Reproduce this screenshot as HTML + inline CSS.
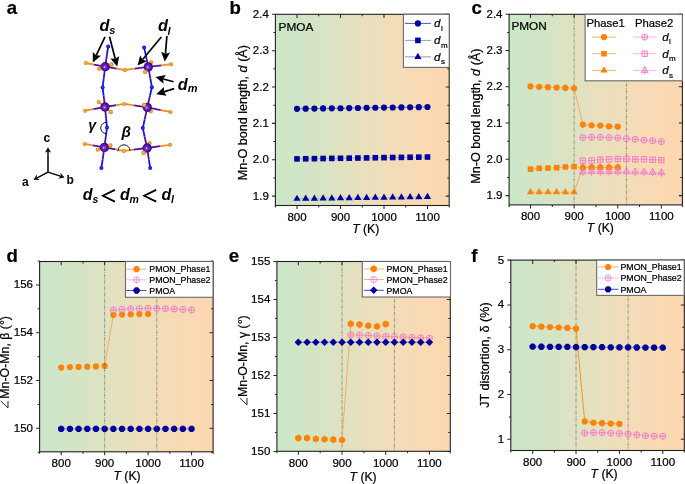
<!DOCTYPE html>
<html><head><meta charset="utf-8"><style>html,body{margin:0;padding:0;background:#fff;overflow:hidden}svg{display:block;will-change:transform}</style></head>
<body><svg width="685" height="484" viewBox="0 0 685 484">
<defs><linearGradient id="bg" x1="0" x2="1" y1="0" y2="0"><stop offset="0.0" stop-color="rgb(203, 231, 201)"/><stop offset="0.25" stop-color="rgb(214, 228, 196)"/><stop offset="0.5" stop-color="rgb(232, 224, 190)"/><stop offset="0.75" stop-color="rgb(246, 219, 182)"/><stop offset="1.0" stop-color="rgb(253, 215, 175)"/></linearGradient>
<radialGradient id="gMn" cx="0.5" cy="0.5" r="0.55" fx="0.42" fy="0.55">
 <stop offset="0" stop-color="#f0c8ff"/><stop offset="0.2" stop-color="#8a44e0"/><stop offset="0.55" stop-color="#5216a8"/><stop offset="1" stop-color="#32087a"/></radialGradient>
<radialGradient id="gO" cx="0.5" cy="0.5" r="0.55" fx="0.5" fy="0.45">
 <stop offset="0" stop-color="#ffe27a"/><stop offset="0.35" stop-color="#f6a432"/><stop offset="0.8" stop-color="#e48412"/><stop offset="1" stop-color="#c46400"/></radialGradient>
<radialGradient id="gN" cx="0.5" cy="0.5" r="0.55" fx="0.5" fy="0.5">
 <stop offset="0" stop-color="#5050ff"/><stop offset="0.5" stop-color="#1a1ae8"/><stop offset="1" stop-color="#0606b8"/></radialGradient>
</defs>
<rect width="685" height="484" fill="#fff"/>
<rect x="275.4" y="14.3" width="173.80" height="191.20" fill="url(#bg)"/>
<path d="M297.00,108.84 L305.70,108.71 L314.40,108.59 L323.10,108.47 L331.80,108.35 L340.50,108.23 L349.20,108.11 L357.90,107.99 L366.60,107.87 L375.30,107.75 L384.00,107.62 L392.70,107.50 L401.40,107.38 L410.10,107.26 L418.80,107.14 L427.50,107.02" fill="none" stroke="#5555cc" stroke-width="0.8"/>
<circle cx="297.00" cy="108.84" r="3.1" fill="#00009a"/>
<circle cx="305.70" cy="108.71" r="3.1" fill="#00009a"/>
<circle cx="314.40" cy="108.59" r="3.1" fill="#00009a"/>
<circle cx="323.10" cy="108.47" r="3.1" fill="#00009a"/>
<circle cx="331.80" cy="108.35" r="3.1" fill="#00009a"/>
<circle cx="340.50" cy="108.23" r="3.1" fill="#00009a"/>
<circle cx="349.20" cy="108.11" r="3.1" fill="#00009a"/>
<circle cx="357.90" cy="107.99" r="3.1" fill="#00009a"/>
<circle cx="366.60" cy="107.87" r="3.1" fill="#00009a"/>
<circle cx="375.30" cy="107.75" r="3.1" fill="#00009a"/>
<circle cx="384.00" cy="107.62" r="3.1" fill="#00009a"/>
<circle cx="392.70" cy="107.50" r="3.1" fill="#00009a"/>
<circle cx="401.40" cy="107.38" r="3.1" fill="#00009a"/>
<circle cx="410.10" cy="107.26" r="3.1" fill="#00009a"/>
<circle cx="418.80" cy="107.14" r="3.1" fill="#00009a"/>
<circle cx="427.50" cy="107.02" r="3.1" fill="#00009a"/>
<path d="M297.00,158.90 L305.70,158.78 L314.40,158.65 L323.10,158.53 L331.80,158.40 L340.50,158.27 L349.20,158.15 L357.90,158.02 L366.60,157.90 L375.30,157.77 L384.00,157.64 L392.70,157.52 L401.40,157.39 L410.10,157.27 L418.80,157.14 L427.50,157.01" fill="none" stroke="#9090dd" stroke-width="0.8"/>
<rect x="294.20" y="156.10" width="5.6" height="5.6" fill="#00009a"/>
<rect x="302.90" y="155.98" width="5.6" height="5.6" fill="#00009a"/>
<rect x="311.60" y="155.85" width="5.6" height="5.6" fill="#00009a"/>
<rect x="320.30" y="155.73" width="5.6" height="5.6" fill="#00009a"/>
<rect x="329.00" y="155.60" width="5.6" height="5.6" fill="#00009a"/>
<rect x="337.70" y="155.47" width="5.6" height="5.6" fill="#00009a"/>
<rect x="346.40" y="155.35" width="5.6" height="5.6" fill="#00009a"/>
<rect x="355.10" y="155.22" width="5.6" height="5.6" fill="#00009a"/>
<rect x="363.80" y="155.10" width="5.6" height="5.6" fill="#00009a"/>
<rect x="372.50" y="154.97" width="5.6" height="5.6" fill="#00009a"/>
<rect x="381.20" y="154.84" width="5.6" height="5.6" fill="#00009a"/>
<rect x="389.90" y="154.72" width="5.6" height="5.6" fill="#00009a"/>
<rect x="398.60" y="154.59" width="5.6" height="5.6" fill="#00009a"/>
<rect x="407.30" y="154.47" width="5.6" height="5.6" fill="#00009a"/>
<rect x="416.00" y="154.34" width="5.6" height="5.6" fill="#00009a"/>
<rect x="424.70" y="154.21" width="5.6" height="5.6" fill="#00009a"/>
<path d="M297.00,198.79 L305.70,198.67 L314.40,198.55 L323.10,198.43 L331.80,198.32 L340.50,198.20 L349.20,198.08 L357.90,197.96 L366.60,197.84 L375.30,197.72 L384.00,197.60 L392.70,197.48 L401.40,197.37 L410.10,197.25 L418.80,197.13 L427.50,197.01" fill="none" stroke="#a8a8e4" stroke-width="0.8"/>
<path d="M297.00,194.63L300.60,200.87L293.40,200.87Z" fill="#00009a"/>
<path d="M305.70,194.52L309.30,200.75L302.10,200.75Z" fill="#00009a"/>
<path d="M314.40,194.40L318.00,200.63L310.80,200.63Z" fill="#00009a"/>
<path d="M323.10,194.28L326.70,200.51L319.50,200.51Z" fill="#00009a"/>
<path d="M331.80,194.16L335.40,200.39L328.20,200.39Z" fill="#00009a"/>
<path d="M340.50,194.04L344.10,200.28L336.90,200.28Z" fill="#00009a"/>
<path d="M349.20,193.92L352.80,200.16L345.60,200.16Z" fill="#00009a"/>
<path d="M357.90,193.80L361.50,200.04L354.30,200.04Z" fill="#00009a"/>
<path d="M366.60,193.68L370.20,199.92L363.00,199.92Z" fill="#00009a"/>
<path d="M375.30,193.56L378.90,199.80L371.70,199.80Z" fill="#00009a"/>
<path d="M384.00,193.45L387.60,199.68L380.40,199.68Z" fill="#00009a"/>
<path d="M392.70,193.33L396.30,199.56L389.10,199.56Z" fill="#00009a"/>
<path d="M401.40,193.21L405.00,199.44L397.80,199.44Z" fill="#00009a"/>
<path d="M410.10,193.09L413.70,199.32L406.50,199.32Z" fill="#00009a"/>
<path d="M418.80,192.97L422.40,199.21L415.20,199.21Z" fill="#00009a"/>
<path d="M427.50,192.85L431.10,199.09L423.90,199.09Z" fill="#00009a"/>
<path d="M297.00,205.5v3.5 M297.00,14.3v3.8 M340.50,205.5v3.5 M340.50,14.3v3.8 M384.00,205.5v3.5 M384.00,14.3v3.8 M427.50,205.5v3.5 M427.50,14.3v3.8 M318.75,205.5v2 M318.75,14.3v2 M362.25,205.5v2 M362.25,14.3v2 M405.75,205.5v2 M405.75,14.3v2 M275.4,205.5v2 M449.2,205.5v2 M275.4,196.10h-3.5 M449.2,196.10h-3.5 M275.4,159.74h-3.5 M449.2,159.74h-3.5 M275.4,123.38h-3.5 M449.2,123.38h-3.5 M275.4,87.02h-3.5 M449.2,87.02h-3.5 M275.4,50.66h-3.5 M449.2,50.66h-3.5 M275.4,14.30h-3.5 M449.2,14.30h-3.5 M275.4,177.92h-2 M449.2,177.92h-2 M275.4,141.56h-2 M449.2,141.56h-2 M275.4,105.20h-2 M449.2,105.20h-2 M275.4,68.84h-2 M449.2,68.84h-2 M275.4,32.48h-2 M449.2,32.48h-2" stroke="#2a2a2a" stroke-width="1.05" fill="none"/>
<rect x="275.4" y="14.3" width="173.80" height="191.20" fill="none" stroke="#222" stroke-width="1.1"/>
<text x="297.00" y="220.70" text-anchor="middle" font-size="11.5" font-family="Liberation Sans, sans-serif" stroke="#000" stroke-width="0.22">800</text>
<text x="340.50" y="220.70" text-anchor="middle" font-size="11.5" font-family="Liberation Sans, sans-serif" stroke="#000" stroke-width="0.22">900</text>
<text x="384.00" y="220.70" text-anchor="middle" font-size="11.5" font-family="Liberation Sans, sans-serif" stroke="#000" stroke-width="0.22">1000</text>
<text x="427.50" y="220.70" text-anchor="middle" font-size="11.5" font-family="Liberation Sans, sans-serif" stroke="#000" stroke-width="0.22">1100</text>
<text x="268.80" y="199.60" text-anchor="end" font-size="11.5" font-family="Liberation Sans, sans-serif" stroke="#000" stroke-width="0.22">1.9</text>
<text x="268.80" y="163.24" text-anchor="end" font-size="11.5" font-family="Liberation Sans, sans-serif" stroke="#000" stroke-width="0.22">2.0</text>
<text x="268.80" y="126.88" text-anchor="end" font-size="11.5" font-family="Liberation Sans, sans-serif" stroke="#000" stroke-width="0.22">2.1</text>
<text x="268.80" y="90.52" text-anchor="end" font-size="11.5" font-family="Liberation Sans, sans-serif" stroke="#000" stroke-width="0.22">2.2</text>
<text x="268.80" y="54.16" text-anchor="end" font-size="11.5" font-family="Liberation Sans, sans-serif" stroke="#000" stroke-width="0.22">2.3</text>
<text x="268.80" y="17.80" text-anchor="end" font-size="11.5" font-family="Liberation Sans, sans-serif" stroke="#000" stroke-width="0.22">2.4</text>
<text x="352.2" y="232.9" font-size="12.2" font-family="Liberation Sans, sans-serif" stroke="#000" stroke-width="0.22"><tspan font-style="italic">T</tspan> (K)</text>
<text x="278.6" y="30.6" font-size="11.8" font-family="Liberation Sans, sans-serif" stroke="#000" stroke-width="0.22">PMOA</text>
<rect x="403.4" y="14.3" width="45.80" height="53.10" fill="#fff" stroke="#6a6a6a" stroke-width="1.1"/>
<line x1="405" y1="23.4" x2="431" y2="23.4" stroke="#5050d0" stroke-width="1.0"/>
<circle cx="417.90" cy="23.40" r="3.1" fill="#00009a"/>
<line x1="405" y1="40.4" x2="431" y2="40.4" stroke="#9a9ae0" stroke-width="1.0"/>
<rect x="415.10" y="37.60" width="5.6" height="5.6" fill="#00009a"/>
<line x1="405" y1="56.8" x2="431" y2="56.8" stroke="#b0b0ea" stroke-width="1.4"/>
<path d="M417.90,52.64L421.50,58.88L414.30,58.88Z" fill="#00009a"/>
<text x="434.0" y="27.4" font-size="11.5" font-family="Liberation Sans, sans-serif" stroke="#000" stroke-width="0.22" font-style="italic">d</text><text x="440.9" y="30.599999999999998" font-size="8" font-family="Liberation Sans, sans-serif" stroke="#000" stroke-width="0.22">l</text>
<text x="434.0" y="44.4" font-size="11.5" font-family="Liberation Sans, sans-serif" stroke="#000" stroke-width="0.22" font-style="italic">d</text><text x="440.9" y="47.6" font-size="8" font-family="Liberation Sans, sans-serif" stroke="#000" stroke-width="0.22">m</text>
<text x="434.0" y="60.8" font-size="11.5" font-family="Liberation Sans, sans-serif" stroke="#000" stroke-width="0.22" font-style="italic">d</text><text x="440.9" y="64.0" font-size="8" font-family="Liberation Sans, sans-serif" stroke="#000" stroke-width="0.22">s</text>
<text transform="translate(247.2,180.2) rotate(-90)" font-size="12.6" font-family="Liberation Sans, sans-serif" stroke="#000" stroke-width="0.22">Mn-O bond length, <tspan font-style="italic">d</tspan> (Å)</text>
<rect x="509.1" y="14.3" width="173.30" height="190.60" fill="url(#bg)"/>
<line x1="574.11" y1="14.3" x2="574.11" y2="204.9" stroke="#555" stroke-width="0.55" stroke-dasharray="3.3,1.1,0.8,1.1"/>
<line x1="626.47" y1="14.3" x2="626.47" y2="204.9" stroke="#555" stroke-width="0.55" stroke-dasharray="3.3,1.1,0.8,1.1"/>
<path d="M530.48,86.46 L539.21,86.82 L547.93,87.18 L556.66,87.55 L565.38,87.91 L574.11,88.27 L582.84,124.53 L591.56,125.26 L600.29,125.62 L609.01,126.34 L617.74,126.71" fill="none" stroke="#f8a050" stroke-width="0.8"/>
<circle cx="530.48" cy="86.46" r="3.1" fill="#fd8208"/>
<circle cx="539.21" cy="86.82" r="3.1" fill="#fd8208"/>
<circle cx="547.93" cy="87.18" r="3.1" fill="#fd8208"/>
<circle cx="556.66" cy="87.55" r="3.1" fill="#fd8208"/>
<circle cx="565.38" cy="87.91" r="3.1" fill="#fd8208"/>
<circle cx="574.11" cy="88.27" r="3.1" fill="#fd8208"/>
<circle cx="582.84" cy="124.53" r="3.1" fill="#fd8208"/>
<circle cx="591.56" cy="125.26" r="3.1" fill="#fd8208"/>
<circle cx="600.29" cy="125.62" r="3.1" fill="#fd8208"/>
<circle cx="609.01" cy="126.34" r="3.1" fill="#fd8208"/>
<circle cx="617.74" cy="126.71" r="3.1" fill="#fd8208"/>
<path d="M530.48,169.13 L539.21,168.40 L547.93,168.04 L556.66,167.68 L565.38,166.95 L574.11,166.59 L582.84,167.68 L591.56,167.32 L600.29,167.32 L609.01,167.32 L617.74,167.32" fill="none" stroke="#f8a050" stroke-width="0.8"/>
<rect x="527.68" y="166.33" width="5.6" height="5.6" fill="#fd8208"/>
<rect x="536.41" y="165.60" width="5.6" height="5.6" fill="#fd8208"/>
<rect x="545.13" y="165.24" width="5.6" height="5.6" fill="#fd8208"/>
<rect x="553.86" y="164.88" width="5.6" height="5.6" fill="#fd8208"/>
<rect x="562.58" y="164.15" width="5.6" height="5.6" fill="#fd8208"/>
<rect x="571.31" y="163.79" width="5.6" height="5.6" fill="#fd8208"/>
<circle cx="582.84" cy="167.68" r="3.1" fill="#fd8208"/>
<circle cx="591.56" cy="167.32" r="3.1" fill="#fd8208"/>
<circle cx="600.29" cy="167.32" r="3.1" fill="#fd8208"/>
<circle cx="609.01" cy="167.32" r="3.1" fill="#fd8208"/>
<circle cx="617.74" cy="167.32" r="3.1" fill="#fd8208"/>
<path d="M530.48,192.16 L539.21,192.16 L547.93,192.16 L556.66,192.16 L565.38,192.16 L574.11,192.16 L582.84,167.32 L591.56,167.32 L600.29,167.32 L609.01,167.32 L617.74,167.32" fill="none" stroke="#f8a050" stroke-width="0.8"/>
<path d="M530.48,188.00L534.08,194.23L526.88,194.23Z" fill="#fd8208"/>
<path d="M539.21,188.00L542.81,194.23L535.61,194.23Z" fill="#fd8208"/>
<path d="M547.93,188.00L551.53,194.23L544.33,194.23Z" fill="#fd8208"/>
<path d="M556.66,188.00L560.26,194.23L553.06,194.23Z" fill="#fd8208"/>
<path d="M565.38,188.00L568.98,194.23L561.78,194.23Z" fill="#fd8208"/>
<path d="M574.11,188.00L577.71,194.23L570.51,194.23Z" fill="#fd8208"/>
<path d="M582.84,163.16L586.44,169.40L579.24,169.40Z" fill="#fd8208"/>
<path d="M591.56,163.16L595.16,169.40L587.96,169.40Z" fill="#fd8208"/>
<path d="M600.29,163.16L603.89,169.40L596.69,169.40Z" fill="#fd8208"/>
<path d="M609.01,163.16L612.61,169.40L605.41,169.40Z" fill="#fd8208"/>
<path d="M617.74,163.16L621.34,169.40L614.14,169.40Z" fill="#fd8208"/>
<path d="M582.84,137.58 L591.56,137.22 L600.29,137.22 L609.01,137.58 L617.74,137.95 L626.47,138.67 L635.19,139.40 L643.92,140.12 L652.64,140.85 L661.37,141.57" fill="none" stroke="#f6a8d8" stroke-width="0.8"/>
<circle cx="582.84" cy="137.58" r="3.05" fill="none" stroke="#f27ac6" stroke-width="0.9"/><path d="M579.79,137.58h6.1 M582.84,134.53v6.1" stroke="#f27ac6" stroke-width="0.8"/>
<circle cx="591.56" cy="137.22" r="3.05" fill="none" stroke="#f27ac6" stroke-width="0.9"/><path d="M588.51,137.22h6.1 M591.56,134.17v6.1" stroke="#f27ac6" stroke-width="0.8"/>
<circle cx="600.29" cy="137.22" r="3.05" fill="none" stroke="#f27ac6" stroke-width="0.9"/><path d="M597.24,137.22h6.1 M600.29,134.17v6.1" stroke="#f27ac6" stroke-width="0.8"/>
<circle cx="609.01" cy="137.58" r="3.05" fill="none" stroke="#f27ac6" stroke-width="0.9"/><path d="M605.96,137.58h6.1 M609.01,134.53v6.1" stroke="#f27ac6" stroke-width="0.8"/>
<circle cx="617.74" cy="137.95" r="3.05" fill="none" stroke="#f27ac6" stroke-width="0.9"/><path d="M614.69,137.95h6.1 M617.74,134.90v6.1" stroke="#f27ac6" stroke-width="0.8"/>
<circle cx="626.47" cy="138.67" r="3.05" fill="none" stroke="#f27ac6" stroke-width="0.9"/><path d="M623.42,138.67h6.1 M626.47,135.62v6.1" stroke="#f27ac6" stroke-width="0.8"/>
<circle cx="635.19" cy="139.40" r="3.05" fill="none" stroke="#f27ac6" stroke-width="0.9"/><path d="M632.14,139.40h6.1 M635.19,136.35v6.1" stroke="#f27ac6" stroke-width="0.8"/>
<circle cx="643.92" cy="140.12" r="3.05" fill="none" stroke="#f27ac6" stroke-width="0.9"/><path d="M640.87,140.12h6.1 M643.92,137.07v6.1" stroke="#f27ac6" stroke-width="0.8"/>
<circle cx="652.64" cy="140.85" r="3.05" fill="none" stroke="#f27ac6" stroke-width="0.9"/><path d="M649.59,140.85h6.1 M652.64,137.80v6.1" stroke="#f27ac6" stroke-width="0.8"/>
<circle cx="661.37" cy="141.57" r="3.05" fill="none" stroke="#f27ac6" stroke-width="0.9"/><path d="M658.32,141.57h6.1 M661.37,138.52v6.1" stroke="#f27ac6" stroke-width="0.8"/>
<path d="M582.84,160.79 L591.56,160.43 L600.29,159.70 L609.01,159.34 L617.74,158.98 L626.47,158.98 L635.19,159.34 L643.92,159.34 L652.64,159.70 L661.37,160.07" fill="none" stroke="#f6a8d8" stroke-width="0.8"/>
<rect x="580.14" y="158.09" width="5.4" height="5.4" fill="none" stroke="#f27ac6" stroke-width="0.9"/><path d="M580.14,160.79h5.4 M582.84,158.09v5.4" stroke="#f27ac6" stroke-width="0.8"/>
<rect x="588.86" y="157.73" width="5.4" height="5.4" fill="none" stroke="#f27ac6" stroke-width="0.9"/><path d="M588.86,160.43h5.4 M591.56,157.73v5.4" stroke="#f27ac6" stroke-width="0.8"/>
<rect x="597.59" y="157.00" width="5.4" height="5.4" fill="none" stroke="#f27ac6" stroke-width="0.9"/><path d="M597.59,159.70h5.4 M600.29,157.00v5.4" stroke="#f27ac6" stroke-width="0.8"/>
<rect x="606.31" y="156.64" width="5.4" height="5.4" fill="none" stroke="#f27ac6" stroke-width="0.9"/><path d="M606.31,159.34h5.4 M609.01,156.64v5.4" stroke="#f27ac6" stroke-width="0.8"/>
<rect x="615.04" y="156.28" width="5.4" height="5.4" fill="none" stroke="#f27ac6" stroke-width="0.9"/><path d="M615.04,158.98h5.4 M617.74,156.28v5.4" stroke="#f27ac6" stroke-width="0.8"/>
<rect x="623.77" y="156.28" width="5.4" height="5.4" fill="none" stroke="#f27ac6" stroke-width="0.9"/><path d="M623.77,158.98h5.4 M626.47,156.28v5.4" stroke="#f27ac6" stroke-width="0.8"/>
<rect x="632.49" y="156.64" width="5.4" height="5.4" fill="none" stroke="#f27ac6" stroke-width="0.9"/><path d="M632.49,159.34h5.4 M635.19,156.64v5.4" stroke="#f27ac6" stroke-width="0.8"/>
<rect x="641.22" y="156.64" width="5.4" height="5.4" fill="none" stroke="#f27ac6" stroke-width="0.9"/><path d="M641.22,159.34h5.4 M643.92,156.64v5.4" stroke="#f27ac6" stroke-width="0.8"/>
<rect x="649.94" y="157.00" width="5.4" height="5.4" fill="none" stroke="#f27ac6" stroke-width="0.9"/><path d="M649.94,159.70h5.4 M652.64,157.00v5.4" stroke="#f27ac6" stroke-width="0.8"/>
<rect x="658.67" y="157.37" width="5.4" height="5.4" fill="none" stroke="#f27ac6" stroke-width="0.9"/><path d="M658.67,160.07h5.4 M661.37,157.37v5.4" stroke="#f27ac6" stroke-width="0.8"/>
<path d="M582.84,172.03 L591.56,171.67 L600.29,171.67 L609.01,171.67 L617.74,171.67 L626.47,171.67 L635.19,172.03 L643.92,172.03 L652.64,172.39 L661.37,172.76" fill="none" stroke="#f6a8d8" stroke-width="0.8"/>
<path d="M582.84,167.99L586.34,174.05L579.34,174.05Z" fill="none" stroke="#f27ac6" stroke-width="0.9"/><path d="M580.14,172.63h5.4 M582.84,167.99v8.262" stroke="#f27ac6" stroke-width="0.8"/>
<path d="M591.56,167.63L595.06,173.69L588.06,173.69Z" fill="none" stroke="#f27ac6" stroke-width="0.9"/><path d="M588.86,172.27h5.4 M591.56,167.63v8.262" stroke="#f27ac6" stroke-width="0.8"/>
<path d="M600.29,167.63L603.79,173.69L596.79,173.69Z" fill="none" stroke="#f27ac6" stroke-width="0.9"/><path d="M597.59,172.27h5.4 M600.29,167.63v8.262" stroke="#f27ac6" stroke-width="0.8"/>
<path d="M609.01,167.63L612.51,173.69L605.51,173.69Z" fill="none" stroke="#f27ac6" stroke-width="0.9"/><path d="M606.31,172.27h5.4 M609.01,167.63v8.262" stroke="#f27ac6" stroke-width="0.8"/>
<path d="M617.74,167.63L621.24,173.69L614.24,173.69Z" fill="none" stroke="#f27ac6" stroke-width="0.9"/><path d="M615.04,172.27h5.4 M617.74,167.63v8.262" stroke="#f27ac6" stroke-width="0.8"/>
<path d="M626.47,167.63L629.97,173.69L622.97,173.69Z" fill="none" stroke="#f27ac6" stroke-width="0.9"/><path d="M623.77,172.27h5.4 M626.47,167.63v8.262" stroke="#f27ac6" stroke-width="0.8"/>
<path d="M635.19,167.99L638.69,174.05L631.69,174.05Z" fill="none" stroke="#f27ac6" stroke-width="0.9"/><path d="M632.49,172.63h5.4 M635.19,167.99v8.262" stroke="#f27ac6" stroke-width="0.8"/>
<path d="M643.92,167.99L647.42,174.05L640.42,174.05Z" fill="none" stroke="#f27ac6" stroke-width="0.9"/><path d="M641.22,172.63h5.4 M643.92,167.99v8.262" stroke="#f27ac6" stroke-width="0.8"/>
<path d="M652.64,168.35L656.14,174.41L649.14,174.41Z" fill="none" stroke="#f27ac6" stroke-width="0.9"/><path d="M649.94,172.99h5.4 M652.64,168.35v8.262" stroke="#f27ac6" stroke-width="0.8"/>
<path d="M661.37,168.71L664.87,174.78L657.87,174.78Z" fill="none" stroke="#f27ac6" stroke-width="0.9"/><path d="M658.67,173.36h5.4 M661.37,168.71v8.262" stroke="#f27ac6" stroke-width="0.8"/>
<path d="M530.48,204.9v3.5 M530.48,14.3v3.8 M574.11,204.9v3.5 M574.11,14.3v3.8 M617.74,204.9v3.5 M617.74,14.3v3.8 M661.37,204.9v3.5 M661.37,14.3v3.8 M552.29,204.9v2 M552.29,14.3v2 M595.92,204.9v2 M595.92,14.3v2 M639.55,204.9v2 M639.55,14.3v2 M509.1,204.9v2 M682.4,204.9v2 M509.1,195.60h-3.5 M682.4,195.60h-3.5 M509.1,159.34h-3.5 M682.4,159.34h-3.5 M509.1,123.08h-3.5 M682.4,123.08h-3.5 M509.1,86.82h-3.5 M682.4,86.82h-3.5 M509.1,50.56h-3.5 M682.4,50.56h-3.5 M509.1,14.30h-3.5 M682.4,14.30h-3.5 M509.1,177.47h-2 M682.4,177.47h-2 M509.1,141.21h-2 M682.4,141.21h-2 M509.1,104.95h-2 M682.4,104.95h-2 M509.1,68.69h-2 M682.4,68.69h-2 M509.1,32.43h-2 M682.4,32.43h-2" stroke="#2a2a2a" stroke-width="1.05" fill="none"/>
<rect x="509.1" y="14.3" width="173.30" height="190.60" fill="none" stroke="#222" stroke-width="1.1"/>
<text x="530.48" y="220.10" text-anchor="middle" font-size="11.5" font-family="Liberation Sans, sans-serif" stroke="#000" stroke-width="0.22">800</text>
<text x="574.11" y="220.10" text-anchor="middle" font-size="11.5" font-family="Liberation Sans, sans-serif" stroke="#000" stroke-width="0.22">900</text>
<text x="617.74" y="220.10" text-anchor="middle" font-size="11.5" font-family="Liberation Sans, sans-serif" stroke="#000" stroke-width="0.22">1000</text>
<text x="661.37" y="220.10" text-anchor="middle" font-size="11.5" font-family="Liberation Sans, sans-serif" stroke="#000" stroke-width="0.22">1100</text>
<text x="502.50" y="199.10" text-anchor="end" font-size="11.5" font-family="Liberation Sans, sans-serif" stroke="#000" stroke-width="0.22">1.9</text>
<text x="502.50" y="162.84" text-anchor="end" font-size="11.5" font-family="Liberation Sans, sans-serif" stroke="#000" stroke-width="0.22">2.0</text>
<text x="502.50" y="126.58" text-anchor="end" font-size="11.5" font-family="Liberation Sans, sans-serif" stroke="#000" stroke-width="0.22">2.1</text>
<text x="502.50" y="90.32" text-anchor="end" font-size="11.5" font-family="Liberation Sans, sans-serif" stroke="#000" stroke-width="0.22">2.2</text>
<text x="502.50" y="54.06" text-anchor="end" font-size="11.5" font-family="Liberation Sans, sans-serif" stroke="#000" stroke-width="0.22">2.3</text>
<text x="502.50" y="17.80" text-anchor="end" font-size="11.5" font-family="Liberation Sans, sans-serif" stroke="#000" stroke-width="0.22">2.4</text>
<text x="586.8" y="231.7" font-size="12.2" font-family="Liberation Sans, sans-serif" stroke="#000" stroke-width="0.22"><tspan font-style="italic">T</tspan> (K)</text>
<text x="511.4" y="29.9" font-size="11.8" font-family="Liberation Sans, sans-serif" stroke="#000" stroke-width="0.22">PMON</text>
<rect x="585.1" y="14.3" width="97.30" height="66.50" fill="#fff" stroke="#6a6a6a" stroke-width="1.1"/>
<text x="586.4" y="26.6" font-size="11.3" font-family="Liberation Sans, sans-serif" stroke="#000" stroke-width="0.22">Phase1</text>
<text x="635.0" y="26.6" font-size="11.3" font-family="Liberation Sans, sans-serif" stroke="#000" stroke-width="0.22">Phase2</text>
<line x1="592.1" y1="37.1" x2="615.9" y2="37.1" stroke="#f8b070" stroke-width="1.0"/>
<circle cx="604.00" cy="37.10" r="3.1" fill="#fd8208"/>
<line x1="633.1" y1="37.1" x2="656.7" y2="37.1" stroke="#f8b8e0" stroke-width="1.0"/>
<circle cx="644.70" cy="37.10" r="3.05" fill="none" stroke="#f27ac6" stroke-width="0.9"/><path d="M641.65,37.10h6.1 M644.70,34.05v6.1" stroke="#f27ac6" stroke-width="0.8"/>
<line x1="592.1" y1="53.7" x2="615.9" y2="53.7" stroke="#f8b070" stroke-width="1.0"/>
<rect x="601.20" y="50.90" width="5.6" height="5.6" fill="#fd8208"/>
<line x1="633.1" y1="53.7" x2="656.7" y2="53.7" stroke="#f8b8e0" stroke-width="1.0"/>
<rect x="642.00" y="51.00" width="5.4" height="5.4" fill="none" stroke="#f27ac6" stroke-width="0.9"/><path d="M642.00,53.70h5.4 M644.70,51.00v5.4" stroke="#f27ac6" stroke-width="0.8"/>
<line x1="592.1" y1="70.4" x2="615.9" y2="70.4" stroke="#f8b070" stroke-width="1.0"/>
<path d="M604.00,66.24L607.60,72.48L600.40,72.48Z" fill="#fd8208"/>
<line x1="633.1" y1="70.4" x2="656.7" y2="70.4" stroke="#f8b8e0" stroke-width="1.0"/>
<path d="M644.70,66.36L648.20,72.42L641.20,72.42Z" fill="none" stroke="#f27ac6" stroke-width="0.9"/><path d="M642.00,71.00h5.4 M644.70,66.36v8.262" stroke="#f27ac6" stroke-width="0.8"/>
<text x="662.2" y="41.0" font-size="11.5" font-family="Liberation Sans, sans-serif" stroke="#000" stroke-width="0.22" font-style="italic">d</text><text x="669.1" y="44.2" font-size="8" font-family="Liberation Sans, sans-serif" stroke="#000" stroke-width="0.22">l</text>
<text x="662.2" y="57.6" font-size="11.5" font-family="Liberation Sans, sans-serif" stroke="#000" stroke-width="0.22" font-style="italic">d</text><text x="669.1" y="60.800000000000004" font-size="8" font-family="Liberation Sans, sans-serif" stroke="#000" stroke-width="0.22">m</text>
<text x="662.2" y="74.3" font-size="11.5" font-family="Liberation Sans, sans-serif" stroke="#000" stroke-width="0.22" font-style="italic">d</text><text x="669.1" y="77.5" font-size="8" font-family="Liberation Sans, sans-serif" stroke="#000" stroke-width="0.22">s</text>
<text transform="translate(479.8,183.7) rotate(-90)" font-size="12.6" font-family="Liberation Sans, sans-serif" stroke="#000" stroke-width="0.22">Mn-O bond length, <tspan font-style="italic">d</tspan> (Å)</text>
<rect x="39.6" y="261.5" width="173.50" height="190.30" fill="url(#bg)"/>
<path d="M104.65,365.92 L113.34,314.78" fill="none" stroke="#f8a050" stroke-width="0.8"/>
<circle cx="61.20" cy="367.59" r="3.1" fill="#fd8208"/>
<circle cx="69.89" cy="367.12" r="3.1" fill="#fd8208"/>
<circle cx="78.58" cy="366.88" r="3.1" fill="#fd8208"/>
<circle cx="87.27" cy="366.64" r="3.1" fill="#fd8208"/>
<circle cx="95.96" cy="366.40" r="3.1" fill="#fd8208"/>
<circle cx="104.65" cy="365.92" r="3.1" fill="#fd8208"/>
<circle cx="113.34" cy="314.78" r="3.1" fill="#fd8208"/>
<circle cx="122.03" cy="314.54" r="3.1" fill="#fd8208"/>
<circle cx="130.72" cy="314.30" r="3.1" fill="#fd8208"/>
<circle cx="139.41" cy="314.06" r="3.1" fill="#fd8208"/>
<circle cx="148.10" cy="314.06" r="3.1" fill="#fd8208"/>
<path d="M113.34,310.00 L122.03,309.52 L130.72,308.80 L139.41,308.56 L148.10,308.32 L156.79,308.56 L165.48,308.80 L174.17,309.04 L182.86,309.52 L191.55,310.00" fill="none" stroke="#f6a8d8" stroke-width="0.8"/>
<circle cx="113.34" cy="310.00" r="3.05" fill="none" stroke="#f27ac6" stroke-width="0.9"/><path d="M110.29,310.00h6.1 M113.34,306.95v6.1" stroke="#f27ac6" stroke-width="0.8"/>
<circle cx="122.03" cy="309.52" r="3.05" fill="none" stroke="#f27ac6" stroke-width="0.9"/><path d="M118.98,309.52h6.1 M122.03,306.47v6.1" stroke="#f27ac6" stroke-width="0.8"/>
<circle cx="130.72" cy="308.80" r="3.05" fill="none" stroke="#f27ac6" stroke-width="0.9"/><path d="M127.67,308.80h6.1 M130.72,305.75v6.1" stroke="#f27ac6" stroke-width="0.8"/>
<circle cx="139.41" cy="308.56" r="3.05" fill="none" stroke="#f27ac6" stroke-width="0.9"/><path d="M136.36,308.56h6.1 M139.41,305.51v6.1" stroke="#f27ac6" stroke-width="0.8"/>
<circle cx="148.10" cy="308.32" r="3.05" fill="none" stroke="#f27ac6" stroke-width="0.9"/><path d="M145.05,308.32h6.1 M148.10,305.27v6.1" stroke="#f27ac6" stroke-width="0.8"/>
<circle cx="156.79" cy="308.56" r="3.05" fill="none" stroke="#f27ac6" stroke-width="0.9"/><path d="M153.74,308.56h6.1 M156.79,305.51v6.1" stroke="#f27ac6" stroke-width="0.8"/>
<circle cx="165.48" cy="308.80" r="3.05" fill="none" stroke="#f27ac6" stroke-width="0.9"/><path d="M162.43,308.80h6.1 M165.48,305.75v6.1" stroke="#f27ac6" stroke-width="0.8"/>
<circle cx="174.17" cy="309.04" r="3.05" fill="none" stroke="#f27ac6" stroke-width="0.9"/><path d="M171.12,309.04h6.1 M174.17,305.99v6.1" stroke="#f27ac6" stroke-width="0.8"/>
<circle cx="182.86" cy="309.52" r="3.05" fill="none" stroke="#f27ac6" stroke-width="0.9"/><path d="M179.81,309.52h6.1 M182.86,306.47v6.1" stroke="#f27ac6" stroke-width="0.8"/>
<circle cx="191.55" cy="310.00" r="3.05" fill="none" stroke="#f27ac6" stroke-width="0.9"/><path d="M188.50,310.00h6.1 M191.55,306.95v6.1" stroke="#f27ac6" stroke-width="0.8"/>
<path d="M61.20,428.90 L69.89,428.90 L78.58,428.90 L87.27,428.90 L95.96,428.90 L104.65,428.90 L113.34,428.90 L122.03,428.90 L130.72,428.90 L139.41,428.90 L148.10,428.90 L156.79,428.90 L165.48,428.90 L174.17,428.90 L182.86,428.90 L191.55,428.90" fill="none" stroke="#7777cc" stroke-width="0.8"/>
<polygon points="64.34,430.20 62.50,432.04 59.90,432.04 58.06,430.20 58.06,427.60 59.90,425.76 62.50,425.76 64.34,427.60" fill="#00009a"/>
<polygon points="73.03,430.20 71.19,432.04 68.59,432.04 66.75,430.20 66.75,427.60 68.59,425.76 71.19,425.76 73.03,427.60" fill="#00009a"/>
<polygon points="81.72,430.20 79.88,432.04 77.28,432.04 75.44,430.20 75.44,427.60 77.28,425.76 79.88,425.76 81.72,427.60" fill="#00009a"/>
<polygon points="90.41,430.20 88.57,432.04 85.97,432.04 84.13,430.20 84.13,427.60 85.97,425.76 88.57,425.76 90.41,427.60" fill="#00009a"/>
<polygon points="99.10,430.20 97.26,432.04 94.66,432.04 92.82,430.20 92.82,427.60 94.66,425.76 97.26,425.76 99.10,427.60" fill="#00009a"/>
<polygon points="107.79,430.20 105.95,432.04 103.35,432.04 101.51,430.20 101.51,427.60 103.35,425.76 105.95,425.76 107.79,427.60" fill="#00009a"/>
<polygon points="116.48,430.20 114.64,432.04 112.04,432.04 110.20,430.20 110.20,427.60 112.04,425.76 114.64,425.76 116.48,427.60" fill="#00009a"/>
<polygon points="125.17,430.20 123.33,432.04 120.73,432.04 118.89,430.20 118.89,427.60 120.73,425.76 123.33,425.76 125.17,427.60" fill="#00009a"/>
<polygon points="133.86,430.20 132.02,432.04 129.42,432.04 127.58,430.20 127.58,427.60 129.42,425.76 132.02,425.76 133.86,427.60" fill="#00009a"/>
<polygon points="142.55,430.20 140.71,432.04 138.11,432.04 136.27,430.20 136.27,427.60 138.11,425.76 140.71,425.76 142.55,427.60" fill="#00009a"/>
<polygon points="151.24,430.20 149.40,432.04 146.80,432.04 144.96,430.20 144.96,427.60 146.80,425.76 149.40,425.76 151.24,427.60" fill="#00009a"/>
<polygon points="159.93,430.20 158.09,432.04 155.49,432.04 153.65,430.20 153.65,427.60 155.49,425.76 158.09,425.76 159.93,427.60" fill="#00009a"/>
<polygon points="168.62,430.20 166.78,432.04 164.18,432.04 162.34,430.20 162.34,427.60 164.18,425.76 166.78,425.76 168.62,427.60" fill="#00009a"/>
<polygon points="177.31,430.20 175.47,432.04 172.87,432.04 171.03,430.20 171.03,427.60 172.87,425.76 175.47,425.76 177.31,427.60" fill="#00009a"/>
<polygon points="186.00,430.20 184.16,432.04 181.56,432.04 179.72,430.20 179.72,427.60 181.56,425.76 184.16,425.76 186.00,427.60" fill="#00009a"/>
<polygon points="194.69,430.20 192.85,432.04 190.25,432.04 188.41,430.20 188.41,427.60 190.25,425.76 192.85,425.76 194.69,427.60" fill="#00009a"/>
<line x1="104.65" y1="261.5" x2="104.65" y2="451.8" stroke="#555" stroke-width="0.55" stroke-dasharray="3.3,1.1,0.8,1.1"/>
<line x1="156.79" y1="261.5" x2="156.79" y2="451.8" stroke="#555" stroke-width="0.55" stroke-dasharray="3.3,1.1,0.8,1.1"/>
<path d="M61.20,451.8v3.5 M61.20,261.5v3.8 M104.65,451.8v3.5 M104.65,261.5v3.8 M148.10,451.8v3.5 M148.10,261.5v3.8 M191.55,451.8v3.5 M191.55,261.5v3.8 M82.92,451.8v2 M82.92,261.5v2 M126.38,451.8v2 M126.38,261.5v2 M169.82,451.8v2 M169.82,261.5v2 M39.6,451.8v2 M213.1,451.8v2 M39.6,428.30h-3.5 M213.1,428.30h-3.5 M39.6,380.50h-3.5 M213.1,380.50h-3.5 M39.6,332.70h-3.5 M213.1,332.70h-3.5 M39.6,284.90h-3.5 M213.1,284.90h-3.5 M39.6,452.20h-2 M213.1,452.20h-2 M39.6,404.40h-2 M213.1,404.40h-2 M39.6,356.60h-2 M213.1,356.60h-2 M39.6,308.80h-2 M213.1,308.80h-2 M39.6,261.00h-2 M213.1,261.00h-2" stroke="#2a2a2a" stroke-width="1.05" fill="none"/>
<rect x="39.6" y="261.5" width="173.50" height="190.30" fill="none" stroke="#222" stroke-width="1.1"/>
<text x="61.20" y="467.00" text-anchor="middle" font-size="11.5" font-family="Liberation Sans, sans-serif" stroke="#000" stroke-width="0.22">800</text>
<text x="104.65" y="467.00" text-anchor="middle" font-size="11.5" font-family="Liberation Sans, sans-serif" stroke="#000" stroke-width="0.22">900</text>
<text x="148.10" y="467.00" text-anchor="middle" font-size="11.5" font-family="Liberation Sans, sans-serif" stroke="#000" stroke-width="0.22">1000</text>
<text x="191.55" y="467.00" text-anchor="middle" font-size="11.5" font-family="Liberation Sans, sans-serif" stroke="#000" stroke-width="0.22">1100</text>
<text x="33.00" y="431.80" text-anchor="end" font-size="11.5" font-family="Liberation Sans, sans-serif" stroke="#000" stroke-width="0.22">150</text>
<text x="33.00" y="384.00" text-anchor="end" font-size="11.5" font-family="Liberation Sans, sans-serif" stroke="#000" stroke-width="0.22">152</text>
<text x="33.00" y="336.20" text-anchor="end" font-size="11.5" font-family="Liberation Sans, sans-serif" stroke="#000" stroke-width="0.22">154</text>
<text x="33.00" y="288.40" text-anchor="end" font-size="11.5" font-family="Liberation Sans, sans-serif" stroke="#000" stroke-width="0.22">156</text>
<text x="113.5" y="479.5" font-size="12.2" font-family="Liberation Sans, sans-serif" stroke="#000" stroke-width="0.22"><tspan font-style="italic">T</tspan> (K)</text>
<rect x="125.5" y="261.5" width="87.50" height="35.80" fill="#fff" stroke="#6a6a6a" stroke-width="1.1"/>
<line x1="126.4" y1="269.2" x2="146.4" y2="269.2" stroke="#f8b070" stroke-width="1.0"/>
<circle cx="136.60" cy="269.20" r="3.1" fill="#fd8208"/>
<text x="149.3" y="272.4" font-size="8.8" font-family="Liberation Sans, sans-serif" stroke="#000" stroke-width="0.22">PMON_Phase1</text>
<line x1="126.4" y1="279.8" x2="146.4" y2="279.8" stroke="#f8b8e0" stroke-width="1.0"/>
<circle cx="136.60" cy="279.80" r="3.05" fill="none" stroke="#f490d0" stroke-width="0.9"/><path d="M133.55,279.80h6.1 M136.60,276.75v6.1" stroke="#f490d0" stroke-width="0.8"/>
<text x="149.3" y="283.0" font-size="8.8" font-family="Liberation Sans, sans-serif" stroke="#000" stroke-width="0.22">PMON_Phase2</text>
<line x1="126.4" y1="290.5" x2="146.4" y2="290.5" stroke="#4848c8" stroke-width="1.0"/>
<polygon points="139.74,291.80 137.90,293.64 135.30,293.64 133.46,291.80 133.46,289.20 135.30,287.36 137.90,287.36 139.74,289.20" fill="#00009a"/>
<text x="149.3" y="293.7" font-size="8.8" font-family="Liberation Sans, sans-serif" stroke="#000" stroke-width="0.22">PMOA</text>
<path d="M0.7999999999999998,401.09999999999997 L8.0,407.9 L8.0,401.09999999999997" fill="none" stroke="#111" stroke-width="0.9"/>
<text transform="translate(8.8,398.7) rotate(-90)" font-size="12.35" font-family="Liberation Sans, sans-serif" stroke="#000" stroke-width="0.22">Mn-O-Mn, β (°)</text>
<rect x="276.9" y="261.5" width="173.40" height="189.80" fill="url(#bg)"/>
<line x1="342.03" y1="261.5" x2="342.03" y2="451.3" stroke="#555" stroke-width="0.55" stroke-dasharray="3.3,1.1,0.8,1.1"/>
<line x1="394.46" y1="261.5" x2="394.46" y2="451.3" stroke="#555" stroke-width="0.55" stroke-dasharray="3.3,1.1,0.8,1.1"/>
<path d="M342.03,440.01 L350.77,323.79" fill="none" stroke="#f8a050" stroke-width="0.8"/>
<polygon points="298.34,434.51 301.46,436.31 301.46,439.91 298.34,441.71 295.22,439.91 295.22,436.31" fill="#fd8208"/>
<polygon points="307.08,434.51 310.20,436.31 310.20,439.91 307.08,441.71 303.96,439.91 303.96,436.31" fill="#fd8208"/>
<polygon points="315.82,435.27 318.93,437.07 318.93,440.67 315.82,442.47 312.70,440.67 312.70,437.07" fill="#fd8208"/>
<polygon points="324.55,435.65 327.67,437.45 327.67,441.05 324.55,442.85 321.44,441.05 321.44,437.45" fill="#fd8208"/>
<polygon points="333.29,436.03 336.41,437.83 336.41,441.43 333.29,443.23 330.17,441.43 330.17,437.83" fill="#fd8208"/>
<polygon points="342.03,436.41 345.15,438.21 345.15,441.81 342.03,443.61 338.91,441.81 338.91,438.21" fill="#fd8208"/>
<polygon points="350.77,320.19 353.89,321.99 353.89,325.59 350.77,327.39 347.65,325.59 347.65,321.99" fill="#fd8208"/>
<polygon points="359.51,320.95 362.62,322.75 362.62,326.35 359.51,328.15 356.39,326.35 356.39,322.75" fill="#fd8208"/>
<polygon points="368.24,322.09 371.36,323.89 371.36,327.49 368.24,329.29 365.13,327.49 365.13,323.89" fill="#fd8208"/>
<polygon points="376.98,322.85 380.10,324.65 380.10,328.25 376.98,330.05 373.86,328.25 373.86,324.65" fill="#fd8208"/>
<polygon points="385.72,320.57 388.84,322.37 388.84,325.97 385.72,327.77 382.60,325.97 382.60,322.37" fill="#fd8208"/>
<path d="M350.77,334.80 L359.51,335.18 L368.24,335.56 L376.98,335.94 L385.72,336.32 L394.46,336.70 L403.20,337.08 L411.93,337.46 L420.67,337.84 L429.41,338.22" fill="none" stroke="#f8b070" stroke-width="0.8"/>
<circle cx="350.77" cy="334.80" r="3.05" fill="none" stroke="#f27ac6" stroke-width="0.9"/><path d="M347.72,334.80h6.1 M350.77,331.75v6.1" stroke="#f27ac6" stroke-width="0.8"/>
<circle cx="359.51" cy="335.18" r="3.05" fill="none" stroke="#f27ac6" stroke-width="0.9"/><path d="M356.46,335.18h6.1 M359.51,332.13v6.1" stroke="#f27ac6" stroke-width="0.8"/>
<circle cx="368.24" cy="335.56" r="3.05" fill="none" stroke="#f27ac6" stroke-width="0.9"/><path d="M365.19,335.56h6.1 M368.24,332.51v6.1" stroke="#f27ac6" stroke-width="0.8"/>
<circle cx="376.98" cy="335.94" r="3.05" fill="none" stroke="#f27ac6" stroke-width="0.9"/><path d="M373.93,335.94h6.1 M376.98,332.89v6.1" stroke="#f27ac6" stroke-width="0.8"/>
<circle cx="385.72" cy="336.32" r="3.05" fill="none" stroke="#f27ac6" stroke-width="0.9"/><path d="M382.67,336.32h6.1 M385.72,333.27v6.1" stroke="#f27ac6" stroke-width="0.8"/>
<circle cx="394.46" cy="336.70" r="3.05" fill="none" stroke="#f27ac6" stroke-width="0.9"/><path d="M391.41,336.70h6.1 M394.46,333.65v6.1" stroke="#f27ac6" stroke-width="0.8"/>
<circle cx="403.20" cy="337.08" r="3.05" fill="none" stroke="#f27ac6" stroke-width="0.9"/><path d="M400.15,337.08h6.1 M403.20,334.03v6.1" stroke="#f27ac6" stroke-width="0.8"/>
<circle cx="411.93" cy="337.46" r="3.05" fill="none" stroke="#f27ac6" stroke-width="0.9"/><path d="M408.88,337.46h6.1 M411.93,334.41v6.1" stroke="#f27ac6" stroke-width="0.8"/>
<circle cx="420.67" cy="337.84" r="3.05" fill="none" stroke="#f27ac6" stroke-width="0.9"/><path d="M417.62,337.84h6.1 M420.67,334.79v6.1" stroke="#f27ac6" stroke-width="0.8"/>
<circle cx="429.41" cy="338.22" r="3.05" fill="none" stroke="#f27ac6" stroke-width="0.9"/><path d="M426.36,338.22h6.1 M429.41,335.17v6.1" stroke="#f27ac6" stroke-width="0.8"/>
<path d="M298.34,342.21 L307.08,342.21 L315.82,342.21 L324.55,342.21 L333.29,342.21 L342.03,342.21 L350.77,342.21 L359.51,342.21 L368.24,342.21 L376.98,342.21 L385.72,342.21 L394.46,342.21 L403.20,342.21 L411.93,342.21 L420.67,342.21 L429.41,342.21" fill="none" stroke="#7777cc" stroke-width="0.8"/>
<path d="M298.34,338.41L302.14,342.21L298.34,346.01L294.54,342.21Z" fill="#00009a"/>
<path d="M307.08,338.41L310.88,342.21L307.08,346.01L303.28,342.21Z" fill="#00009a"/>
<path d="M315.82,338.41L319.62,342.21L315.82,346.01L312.02,342.21Z" fill="#00009a"/>
<path d="M324.55,338.41L328.35,342.21L324.55,346.01L320.75,342.21Z" fill="#00009a"/>
<path d="M333.29,338.41L337.09,342.21L333.29,346.01L329.49,342.21Z" fill="#00009a"/>
<path d="M342.03,338.41L345.83,342.21L342.03,346.01L338.23,342.21Z" fill="#00009a"/>
<path d="M350.77,338.41L354.57,342.21L350.77,346.01L346.97,342.21Z" fill="#00009a"/>
<path d="M359.51,338.41L363.31,342.21L359.51,346.01L355.71,342.21Z" fill="#00009a"/>
<path d="M368.24,338.41L372.04,342.21L368.24,346.01L364.44,342.21Z" fill="#00009a"/>
<path d="M376.98,338.41L380.78,342.21L376.98,346.01L373.18,342.21Z" fill="#00009a"/>
<path d="M385.72,338.41L389.52,342.21L385.72,346.01L381.92,342.21Z" fill="#00009a"/>
<path d="M394.46,338.41L398.26,342.21L394.46,346.01L390.66,342.21Z" fill="#00009a"/>
<path d="M403.20,338.41L407.00,342.21L403.20,346.01L399.40,342.21Z" fill="#00009a"/>
<path d="M411.93,338.41L415.73,342.21L411.93,346.01L408.13,342.21Z" fill="#00009a"/>
<path d="M420.67,338.41L424.47,342.21L420.67,346.01L416.87,342.21Z" fill="#00009a"/>
<path d="M429.41,338.41L433.21,342.21L429.41,346.01L425.61,342.21Z" fill="#00009a"/>
<path d="M298.34,451.3v3.5 M298.34,261.5v3.8 M342.03,451.3v3.5 M342.03,261.5v3.8 M385.72,451.3v3.5 M385.72,261.5v3.8 M429.41,451.3v3.5 M429.41,261.5v3.8 M320.19,451.3v2 M320.19,261.5v2 M363.88,451.3v2 M363.88,261.5v2 M407.56,451.3v2 M407.56,261.5v2 M276.9,451.3v2 M450.3,451.3v2 M276.9,451.40h-3.5 M450.3,451.40h-3.5 M276.9,413.42h-3.5 M450.3,413.42h-3.5 M276.9,375.44h-3.5 M450.3,375.44h-3.5 M276.9,337.46h-3.5 M450.3,337.46h-3.5 M276.9,299.48h-3.5 M450.3,299.48h-3.5 M276.9,261.50h-3.5 M450.3,261.50h-3.5 M276.9,432.41h-2 M450.3,432.41h-2 M276.9,394.43h-2 M450.3,394.43h-2 M276.9,356.45h-2 M450.3,356.45h-2 M276.9,318.47h-2 M450.3,318.47h-2 M276.9,280.49h-2 M450.3,280.49h-2" stroke="#2a2a2a" stroke-width="1.05" fill="none"/>
<rect x="276.9" y="261.5" width="173.40" height="189.80" fill="none" stroke="#222" stroke-width="1.1"/>
<text x="298.34" y="466.50" text-anchor="middle" font-size="11.5" font-family="Liberation Sans, sans-serif" stroke="#000" stroke-width="0.22">800</text>
<text x="342.03" y="466.50" text-anchor="middle" font-size="11.5" font-family="Liberation Sans, sans-serif" stroke="#000" stroke-width="0.22">900</text>
<text x="385.72" y="466.50" text-anchor="middle" font-size="11.5" font-family="Liberation Sans, sans-serif" stroke="#000" stroke-width="0.22">1000</text>
<text x="429.41" y="466.50" text-anchor="middle" font-size="11.5" font-family="Liberation Sans, sans-serif" stroke="#000" stroke-width="0.22">1100</text>
<text x="270.30" y="454.90" text-anchor="end" font-size="11.5" font-family="Liberation Sans, sans-serif" stroke="#000" stroke-width="0.22">150</text>
<text x="270.30" y="416.92" text-anchor="end" font-size="11.5" font-family="Liberation Sans, sans-serif" stroke="#000" stroke-width="0.22">151</text>
<text x="270.30" y="378.94" text-anchor="end" font-size="11.5" font-family="Liberation Sans, sans-serif" stroke="#000" stroke-width="0.22">152</text>
<text x="270.30" y="340.96" text-anchor="end" font-size="11.5" font-family="Liberation Sans, sans-serif" stroke="#000" stroke-width="0.22">153</text>
<text x="270.30" y="302.98" text-anchor="end" font-size="11.5" font-family="Liberation Sans, sans-serif" stroke="#000" stroke-width="0.22">154</text>
<text x="270.30" y="265.00" text-anchor="end" font-size="11.5" font-family="Liberation Sans, sans-serif" stroke="#000" stroke-width="0.22">155</text>
<text x="349.6" y="480.8" font-size="12.2" font-family="Liberation Sans, sans-serif" stroke="#000" stroke-width="0.22"><tspan font-style="italic">T</tspan> (K)</text>
<rect x="362.3" y="261.5" width="88.20" height="35.50" fill="#fff" stroke="#6a6a6a" stroke-width="1.1"/>
<line x1="363.8" y1="268.9" x2="383.9" y2="268.9" stroke="#f8b070" stroke-width="1.0"/>
<polygon points="373.70,265.30 376.82,267.10 376.82,270.70 373.70,272.50 370.58,270.70 370.58,267.10" fill="#fd8208"/>
<text x="386.5" y="272.09999999999997" font-size="8.8" font-family="Liberation Sans, sans-serif" stroke="#000" stroke-width="0.22">PMON_Phase1</text>
<line x1="363.8" y1="279.5" x2="383.9" y2="279.5" stroke="#f8b070" stroke-width="1.0"/>
<circle cx="373.70" cy="279.50" r="3.05" fill="none" stroke="#f490d0" stroke-width="0.9"/><path d="M370.65,279.50h6.1 M373.70,276.45v6.1" stroke="#f490d0" stroke-width="0.8"/>
<text x="386.5" y="282.7" font-size="8.8" font-family="Liberation Sans, sans-serif" stroke="#000" stroke-width="0.22">PMON_Phase2</text>
<line x1="363.8" y1="290.3" x2="383.9" y2="290.3" stroke="#4848c8" stroke-width="1.0"/>
<path d="M373.70,286.50L377.50,290.30L373.70,294.10L369.90,290.30Z" fill="#00009a"/>
<text x="386.5" y="293.5" font-size="8.8" font-family="Liberation Sans, sans-serif" stroke="#000" stroke-width="0.22">PMOA</text>
<path d="M239.8,398.0 L247.0,404.8 L247.0,398.0" fill="none" stroke="#111" stroke-width="0.9"/>
<text transform="translate(247.2,397.0) rotate(-90)" font-size="12.35" font-family="Liberation Sans, sans-serif" stroke="#000" stroke-width="0.22">Mn-O-Mn, γ (°)</text>
<rect x="510.8" y="260.1" width="173.50" height="190.40" fill="url(#bg)"/>
<line x1="576.04" y1="260.1" x2="576.04" y2="450.5" stroke="#555" stroke-width="0.55" stroke-dasharray="3.3,1.1,0.8,1.1"/>
<line x1="628.08" y1="260.1" x2="628.08" y2="450.5" stroke="#555" stroke-width="0.55" stroke-dasharray="3.3,1.1,0.8,1.1"/>
<path d="M532.67,326.14 L541.34,326.63 L550.02,327.08 L558.69,327.52 L567.37,327.97 L576.04,328.64 L584.71,421.38 L593.39,422.72 L602.06,423.17 L610.74,423.62 L619.41,423.93" fill="none" stroke="#f98a20" stroke-width="0.9"/>
<circle cx="532.67" cy="326.14" r="3.1" fill="#fd8208"/>
<circle cx="541.34" cy="326.63" r="3.1" fill="#fd8208"/>
<circle cx="550.02" cy="327.08" r="3.1" fill="#fd8208"/>
<circle cx="558.69" cy="327.52" r="3.1" fill="#fd8208"/>
<circle cx="567.37" cy="327.97" r="3.1" fill="#fd8208"/>
<circle cx="576.04" cy="328.64" r="3.1" fill="#fd8208"/>
<circle cx="584.71" cy="421.38" r="3.1" fill="#fd8208"/>
<circle cx="593.39" cy="422.72" r="3.1" fill="#fd8208"/>
<circle cx="602.06" cy="423.17" r="3.1" fill="#fd8208"/>
<circle cx="610.74" cy="423.62" r="3.1" fill="#fd8208"/>
<circle cx="619.41" cy="423.93" r="3.1" fill="#fd8208"/>
<path d="M584.71,433.12 L593.39,432.58 L602.06,432.58 L610.74,433.03 L619.41,433.48 L628.08,433.92 L636.76,434.82 L645.43,435.72 L654.11,436.16 L662.78,436.30" fill="none" stroke="#f6a8d8" stroke-width="0.8"/>
<circle cx="584.71" cy="433.12" r="3.05" fill="none" stroke="#f27ac6" stroke-width="0.9"/><path d="M581.66,433.12h6.1 M584.71,430.07v6.1" stroke="#f27ac6" stroke-width="0.8"/>
<circle cx="593.39" cy="432.58" r="3.05" fill="none" stroke="#f27ac6" stroke-width="0.9"/><path d="M590.34,432.58h6.1 M593.39,429.53v6.1" stroke="#f27ac6" stroke-width="0.8"/>
<circle cx="602.06" cy="432.58" r="3.05" fill="none" stroke="#f27ac6" stroke-width="0.9"/><path d="M599.01,432.58h6.1 M602.06,429.53v6.1" stroke="#f27ac6" stroke-width="0.8"/>
<circle cx="610.74" cy="433.03" r="3.05" fill="none" stroke="#f27ac6" stroke-width="0.9"/><path d="M607.69,433.03h6.1 M610.74,429.98v6.1" stroke="#f27ac6" stroke-width="0.8"/>
<circle cx="619.41" cy="433.48" r="3.05" fill="none" stroke="#f27ac6" stroke-width="0.9"/><path d="M616.36,433.48h6.1 M619.41,430.43v6.1" stroke="#f27ac6" stroke-width="0.8"/>
<circle cx="628.08" cy="433.92" r="3.05" fill="none" stroke="#f27ac6" stroke-width="0.9"/><path d="M625.03,433.92h6.1 M628.08,430.87v6.1" stroke="#f27ac6" stroke-width="0.8"/>
<circle cx="636.76" cy="434.82" r="3.05" fill="none" stroke="#f27ac6" stroke-width="0.9"/><path d="M633.71,434.82h6.1 M636.76,431.77v6.1" stroke="#f27ac6" stroke-width="0.8"/>
<circle cx="645.43" cy="435.72" r="3.05" fill="none" stroke="#f27ac6" stroke-width="0.9"/><path d="M642.38,435.72h6.1 M645.43,432.67v6.1" stroke="#f27ac6" stroke-width="0.8"/>
<circle cx="654.11" cy="436.16" r="3.05" fill="none" stroke="#f27ac6" stroke-width="0.9"/><path d="M651.06,436.16h6.1 M654.11,433.11v6.1" stroke="#f27ac6" stroke-width="0.8"/>
<circle cx="662.78" cy="436.30" r="3.05" fill="none" stroke="#f27ac6" stroke-width="0.9"/><path d="M659.73,436.30h6.1 M662.78,433.25v6.1" stroke="#f27ac6" stroke-width="0.8"/>
<path d="M532.67,346.70 L541.34,346.76 L550.02,346.83 L558.69,346.90 L567.37,346.96 L576.04,347.03 L584.71,347.09 L593.39,347.16 L602.06,347.22 L610.74,347.29 L619.41,347.36 L628.08,347.42 L636.76,347.49 L645.43,347.55 L654.11,347.62 L662.78,347.68" fill="none" stroke="#7777cc" stroke-width="0.8"/>
<polygon points="535.81,348.00 533.97,349.84 531.37,349.84 529.53,348.00 529.53,345.40 531.37,343.56 533.97,343.56 535.81,345.40" fill="#00009a"/>
<polygon points="544.49,348.07 542.65,349.91 540.04,349.91 538.20,348.07 538.20,345.46 540.04,343.62 542.65,343.62 544.49,345.46" fill="#00009a"/>
<polygon points="553.16,348.13 551.32,349.97 548.72,349.97 546.88,348.13 546.88,345.53 548.72,343.69 551.32,343.69 553.16,345.53" fill="#00009a"/>
<polygon points="561.83,348.20 559.99,350.04 557.39,350.04 555.55,348.20 555.55,345.59 557.39,343.75 559.99,343.75 561.83,345.59" fill="#00009a"/>
<polygon points="570.51,348.26 568.67,350.10 566.06,350.10 564.22,348.26 564.22,345.66 566.06,343.82 568.67,343.82 570.51,345.66" fill="#00009a"/>
<polygon points="579.18,348.33 577.34,350.17 574.74,350.17 572.90,348.33 572.90,345.73 574.74,343.89 577.34,343.89 579.18,345.73" fill="#00009a"/>
<polygon points="587.86,348.39 586.02,350.23 583.41,350.23 581.57,348.39 581.57,345.79 583.41,343.95 586.02,343.95 587.86,345.79" fill="#00009a"/>
<polygon points="596.53,348.46 594.69,350.30 592.09,350.30 590.25,348.46 590.25,345.86 592.09,344.02 594.69,344.02 596.53,345.86" fill="#00009a"/>
<polygon points="605.20,348.53 603.36,350.37 600.76,350.37 598.92,348.53 598.92,345.92 600.76,344.08 603.36,344.08 605.20,345.92" fill="#00009a"/>
<polygon points="613.88,348.59 612.04,350.43 609.43,350.43 607.59,348.59 607.59,345.99 609.43,344.15 612.04,344.15 613.88,345.99" fill="#00009a"/>
<polygon points="622.55,348.66 620.71,350.50 618.11,350.50 616.27,348.66 616.27,346.05 618.11,344.21 620.71,344.21 622.55,346.05" fill="#00009a"/>
<polygon points="631.23,348.72 629.39,350.56 626.78,350.56 624.94,348.72 624.94,346.12 626.78,344.28 629.39,344.28 631.23,346.12" fill="#00009a"/>
<polygon points="639.90,348.79 638.06,350.63 635.46,350.63 633.62,348.79 633.62,346.19 635.46,344.35 638.06,344.35 639.90,346.19" fill="#00009a"/>
<polygon points="648.57,348.85 646.73,350.69 644.13,350.69 642.29,348.85 642.29,346.25 644.13,344.41 646.73,344.41 648.57,346.25" fill="#00009a"/>
<polygon points="657.25,348.92 655.41,350.76 652.80,350.76 650.96,348.92 650.96,346.32 652.80,344.48 655.41,344.48 657.25,346.32" fill="#00009a"/>
<polygon points="665.92,348.99 664.08,350.83 661.48,350.83 659.64,348.99 659.64,346.38 661.48,344.54 664.08,344.54 665.92,346.38" fill="#00009a"/>
<path d="M532.67,450.5v3.5 M532.67,260.1v3.8 M576.04,450.5v3.5 M576.04,260.1v3.8 M619.41,450.5v3.5 M619.41,260.1v3.8 M662.78,450.5v3.5 M662.78,260.1v3.8 M554.36,450.5v2 M554.36,260.1v2 M597.73,450.5v2 M597.73,260.1v2 M641.10,450.5v2 M641.10,260.1v2 M510.8,450.5v2 M684.3,450.5v2 M510.8,439.30h-3.5 M684.3,439.30h-3.5 M510.8,394.50h-3.5 M684.3,394.50h-3.5 M510.8,349.70h-3.5 M684.3,349.70h-3.5 M510.8,304.90h-3.5 M684.3,304.90h-3.5 M510.8,260.10h-3.5 M684.3,260.10h-3.5 M510.8,416.90h-2 M684.3,416.90h-2 M510.8,372.10h-2 M684.3,372.10h-2 M510.8,327.30h-2 M684.3,327.30h-2 M510.8,282.50h-2 M684.3,282.50h-2" stroke="#2a2a2a" stroke-width="1.05" fill="none"/>
<rect x="510.8" y="260.1" width="173.50" height="190.40" fill="none" stroke="#222" stroke-width="1.1"/>
<text x="532.67" y="465.70" text-anchor="middle" font-size="11.5" font-family="Liberation Sans, sans-serif" stroke="#000" stroke-width="0.22">800</text>
<text x="576.04" y="465.70" text-anchor="middle" font-size="11.5" font-family="Liberation Sans, sans-serif" stroke="#000" stroke-width="0.22">900</text>
<text x="619.41" y="465.70" text-anchor="middle" font-size="11.5" font-family="Liberation Sans, sans-serif" stroke="#000" stroke-width="0.22">1000</text>
<text x="662.78" y="465.70" text-anchor="middle" font-size="11.5" font-family="Liberation Sans, sans-serif" stroke="#000" stroke-width="0.22">1100</text>
<text x="504.20" y="442.80" text-anchor="end" font-size="11.5" font-family="Liberation Sans, sans-serif" stroke="#000" stroke-width="0.22">1</text>
<text x="504.20" y="398.00" text-anchor="end" font-size="11.5" font-family="Liberation Sans, sans-serif" stroke="#000" stroke-width="0.22">2</text>
<text x="504.20" y="353.20" text-anchor="end" font-size="11.5" font-family="Liberation Sans, sans-serif" stroke="#000" stroke-width="0.22">3</text>
<text x="504.20" y="308.40" text-anchor="end" font-size="11.5" font-family="Liberation Sans, sans-serif" stroke="#000" stroke-width="0.22">4</text>
<text x="504.20" y="263.60" text-anchor="end" font-size="11.5" font-family="Liberation Sans, sans-serif" stroke="#000" stroke-width="0.22">5</text>
<text x="590.6" y="478.0" font-size="12.2" font-family="Liberation Sans, sans-serif" stroke="#000" stroke-width="0.22"><tspan font-style="italic">T</tspan> (K)</text>
<rect x="596.7" y="260.1" width="87.50" height="35.30" fill="#fff" stroke="#6a6a6a" stroke-width="1.1"/>
<line x1="598.1" y1="267.0" x2="618.6" y2="267.0" stroke="#f8b070" stroke-width="1.0"/>
<circle cx="608.10" cy="267.00" r="3.1" fill="#fd8208"/>
<text x="620.5" y="270.2" font-size="8.8" font-family="Liberation Sans, sans-serif" stroke="#000" stroke-width="0.22">PMON_Phase1</text>
<line x1="598.1" y1="278.0" x2="618.6" y2="278.0" stroke="#f8b8e0" stroke-width="1.0"/>
<circle cx="608.10" cy="278.00" r="3.05" fill="none" stroke="#f490d0" stroke-width="0.9"/><path d="M605.05,278.00h6.1 M608.10,274.95v6.1" stroke="#f490d0" stroke-width="0.8"/>
<text x="620.5" y="281.2" font-size="8.8" font-family="Liberation Sans, sans-serif" stroke="#000" stroke-width="0.22">PMON_Phase2</text>
<line x1="598.1" y1="289.3" x2="618.6" y2="289.3" stroke="#4848c8" stroke-width="1.0"/>
<polygon points="611.24,290.60 609.40,292.44 606.80,292.44 604.96,290.60 604.96,288.00 606.80,286.16 609.40,286.16 611.24,288.00" fill="#00009a"/>
<text x="620.5" y="292.5" font-size="8.8" font-family="Liberation Sans, sans-serif" stroke="#000" stroke-width="0.22">PMOA</text>
<text transform="translate(489.0,407.8) rotate(-90)" font-size="12.6" font-family="Liberation Sans, sans-serif" stroke="#000" stroke-width="0.22">JT distortion, δ (%)</text>
<line x1="108.2" y1="46.4" x2="106.94" y2="54.93" stroke="#1616e0" stroke-width="1.8"/><line x1="106.94" y1="54.93" x2="105.2" y2="66.7" stroke="#4c14a0" stroke-width="1.8"/>
<line x1="105.2" y1="66.7" x2="103.69" y2="78.71" stroke="#4c14a0" stroke-width="1.8"/><line x1="103.69" y1="78.71" x2="102.6" y2="87.4" stroke="#1616e0" stroke-width="1.8"/>
<line x1="102.6" y1="87.4" x2="103.61" y2="95.63" stroke="#1616e0" stroke-width="1.8"/><line x1="103.61" y1="95.63" x2="105.0" y2="107.0" stroke="#4c14a0" stroke-width="1.8"/>
<line x1="105.0" y1="107.0" x2="106.16" y2="118.83" stroke="#4c14a0" stroke-width="1.8"/><line x1="106.16" y1="118.83" x2="107.0" y2="127.4" stroke="#1616e0" stroke-width="1.8"/>
<line x1="107.0" y1="127.4" x2="105.91" y2="135.80" stroke="#1616e0" stroke-width="1.8"/><line x1="105.91" y1="135.80" x2="104.4" y2="147.4" stroke="#4c14a0" stroke-width="1.8"/>
<line x1="104.4" y1="147.4" x2="102.66" y2="159.35" stroke="#4c14a0" stroke-width="1.8"/><line x1="102.66" y1="159.35" x2="101.4" y2="168.0" stroke="#1616e0" stroke-width="1.8"/>
<line x1="144.1" y1="47.4" x2="145.86" y2="55.59" stroke="#1616e0" stroke-width="1.8"/><line x1="145.86" y1="55.59" x2="148.3" y2="66.9" stroke="#4c14a0" stroke-width="1.8"/>
<line x1="148.3" y1="66.9" x2="150.39" y2="78.67" stroke="#4c14a0" stroke-width="1.8"/><line x1="150.39" y1="78.67" x2="151.9" y2="87.2" stroke="#1616e0" stroke-width="1.8"/>
<line x1="151.9" y1="87.2" x2="149.97" y2="95.68" stroke="#1616e0" stroke-width="1.8"/><line x1="149.97" y1="95.68" x2="147.3" y2="107.4" stroke="#4c14a0" stroke-width="1.8"/>
<line x1="147.3" y1="107.4" x2="144.69" y2="119.41" stroke="#4c14a0" stroke-width="1.8"/><line x1="144.69" y1="119.41" x2="142.8" y2="128.1" stroke="#1616e0" stroke-width="1.8"/>
<line x1="142.8" y1="128.1" x2="144.61" y2="136.46" stroke="#1616e0" stroke-width="1.8"/><line x1="144.61" y1="136.46" x2="147.1" y2="148.0" stroke="#4c14a0" stroke-width="1.8"/>
<line x1="147.1" y1="148.0" x2="148.90" y2="159.60" stroke="#4c14a0" stroke-width="1.8"/><line x1="148.90" y1="159.60" x2="150.2" y2="168.0" stroke="#1616e0" stroke-width="1.8"/>
<line x1="85.8" y1="63.0" x2="93.95" y2="64.55" stroke="#ef8e22" stroke-width="1.8"/><line x1="93.95" y1="64.55" x2="105.2" y2="66.7" stroke="#4c14a0" stroke-width="1.8"/>
<line x1="105.2" y1="66.7" x2="116.63" y2="68.61" stroke="#4c14a0" stroke-width="1.8"/><line x1="116.63" y1="68.61" x2="124.9" y2="70.0" stroke="#ef8e22" stroke-width="1.8"/>
<line x1="124.9" y1="70.0" x2="134.73" y2="68.70" stroke="#ef8e22" stroke-width="1.8"/><line x1="134.73" y1="68.70" x2="148.3" y2="66.9" stroke="#4c14a0" stroke-width="1.8"/>
<line x1="148.3" y1="66.9" x2="161.47" y2="65.33" stroke="#4c14a0" stroke-width="1.8"/><line x1="161.47" y1="65.33" x2="171.0" y2="64.2" stroke="#ef8e22" stroke-width="1.8"/>
<line x1="85.1" y1="110.7" x2="93.46" y2="109.15" stroke="#ef8e22" stroke-width="1.8"/><line x1="93.46" y1="109.15" x2="105.0" y2="107.0" stroke="#4c14a0" stroke-width="1.8"/>
<line x1="105.0" y1="107.0" x2="116.31" y2="105.20" stroke="#4c14a0" stroke-width="1.8"/><line x1="116.31" y1="105.20" x2="124.5" y2="103.9" stroke="#ef8e22" stroke-width="1.8"/>
<line x1="124.5" y1="103.9" x2="134.08" y2="105.37" stroke="#ef8e22" stroke-width="1.8"/><line x1="134.08" y1="105.37" x2="147.3" y2="107.4" stroke="#4c14a0" stroke-width="1.8"/>
<line x1="147.3" y1="107.4" x2="160.76" y2="110.01" stroke="#4c14a0" stroke-width="1.8"/><line x1="160.76" y1="110.01" x2="170.5" y2="111.9" stroke="#ef8e22" stroke-width="1.8"/>
<line x1="84.7" y1="143.9" x2="92.97" y2="145.37" stroke="#ef8e22" stroke-width="1.8"/><line x1="92.97" y1="145.37" x2="104.4" y2="147.4" stroke="#4c14a0" stroke-width="1.8"/>
<line x1="104.4" y1="147.4" x2="115.59" y2="149.43" stroke="#4c14a0" stroke-width="1.8"/><line x1="115.59" y1="149.43" x2="123.7" y2="150.9" stroke="#ef8e22" stroke-width="1.8"/>
<line x1="123.7" y1="150.9" x2="133.53" y2="149.68" stroke="#ef8e22" stroke-width="1.8"/><line x1="133.53" y1="149.68" x2="147.1" y2="148.0" stroke="#4c14a0" stroke-width="1.8"/>
<line x1="147.1" y1="148.0" x2="160.44" y2="146.14" stroke="#4c14a0" stroke-width="1.8"/><line x1="160.44" y1="146.14" x2="170.1" y2="144.8" stroke="#ef8e22" stroke-width="1.8"/>
<line x1="105.2" y1="66.7" x2="101.66" y2="67.86" stroke="#4c14a0" stroke-width="1.8"/><line x1="101.66" y1="67.86" x2="99.1" y2="68.7" stroke="#ef8e22" stroke-width="1.8"/>
<line x1="105.2" y1="66.7" x2="108.80" y2="65.42" stroke="#4c14a0" stroke-width="1.8"/><line x1="108.80" y1="65.42" x2="111.4" y2="64.5" stroke="#ef8e22" stroke-width="1.8"/>
<line x1="148.3" y1="66.9" x2="149.92" y2="64.17" stroke="#4c14a0" stroke-width="1.8"/><line x1="149.92" y1="64.17" x2="151.1" y2="62.2" stroke="#ef8e22" stroke-width="1.8"/>
<line x1="148.3" y1="66.9" x2="146.50" y2="69.74" stroke="#4c14a0" stroke-width="1.8"/><line x1="146.50" y1="69.74" x2="145.2" y2="71.8" stroke="#ef8e22" stroke-width="1.8"/>
<line x1="105.0" y1="107.0" x2="101.35" y2="104.10" stroke="#4c14a0" stroke-width="1.8"/><line x1="101.35" y1="104.10" x2="98.7" y2="102.0" stroke="#ef8e22" stroke-width="1.8"/>
<line x1="105.0" y1="107.0" x2="108.31" y2="109.84" stroke="#4c14a0" stroke-width="1.8"/><line x1="108.31" y1="109.84" x2="110.7" y2="111.9" stroke="#ef8e22" stroke-width="1.8"/>
<line x1="147.3" y1="107.4" x2="149.33" y2="109.60" stroke="#4c14a0" stroke-width="1.8"/><line x1="149.33" y1="109.60" x2="150.8" y2="111.2" stroke="#ef8e22" stroke-width="1.8"/>
<line x1="147.3" y1="107.4" x2="145.50" y2="106.01" stroke="#4c14a0" stroke-width="1.8"/><line x1="145.50" y1="106.01" x2="144.2" y2="105.0" stroke="#ef8e22" stroke-width="1.8"/>
<line x1="104.4" y1="147.4" x2="107.82" y2="146.24" stroke="#4c14a0" stroke-width="1.8"/><line x1="107.82" y1="146.24" x2="110.3" y2="145.4" stroke="#ef8e22" stroke-width="1.8"/>
<line x1="104.4" y1="147.4" x2="100.51" y2="148.79" stroke="#4c14a0" stroke-width="1.8"/><line x1="100.51" y1="148.79" x2="97.7" y2="149.8" stroke="#ef8e22" stroke-width="1.8"/>
<line x1="147.1" y1="148.0" x2="148.61" y2="145.10" stroke="#4c14a0" stroke-width="1.8"/><line x1="148.61" y1="145.10" x2="149.7" y2="143.0" stroke="#ef8e22" stroke-width="1.8"/>
<line x1="147.1" y1="148.0" x2="145.13" y2="150.78" stroke="#4c14a0" stroke-width="1.8"/><line x1="145.13" y1="150.78" x2="143.7" y2="152.8" stroke="#ef8e22" stroke-width="1.8"/>
<circle cx="99.1" cy="68.7" r="2.0" fill="url(#gO)"/>
<circle cx="151.1" cy="62.2" r="2.0" fill="url(#gO)"/>
<circle cx="98.7" cy="102.0" r="2.0" fill="url(#gO)"/>
<circle cx="150.8" cy="111.2" r="2.0" fill="url(#gO)"/>
<circle cx="97.7" cy="149.8" r="2.0" fill="url(#gO)"/>
<circle cx="149.7" cy="143.0" r="2.0" fill="url(#gO)"/>
<circle cx="108.2" cy="46.4" r="2.0" fill="url(#gN)"/>
<circle cx="102.6" cy="87.4" r="2.0" fill="url(#gN)"/>
<circle cx="107.0" cy="127.4" r="2.0" fill="url(#gN)"/>
<circle cx="101.4" cy="168.0" r="2.0" fill="url(#gN)"/>
<circle cx="144.1" cy="47.4" r="2.0" fill="url(#gN)"/>
<circle cx="151.9" cy="87.2" r="2.0" fill="url(#gN)"/>
<circle cx="142.8" cy="128.1" r="2.0" fill="url(#gN)"/>
<circle cx="150.2" cy="168.0" r="2.0" fill="url(#gN)"/>
<circle cx="85.8" cy="63.0" r="2.0" fill="url(#gO)"/>
<circle cx="124.9" cy="70.0" r="2.0" fill="url(#gO)"/>
<circle cx="171.0" cy="64.2" r="2.0" fill="url(#gO)"/>
<circle cx="85.1" cy="110.7" r="2.0" fill="url(#gO)"/>
<circle cx="124.5" cy="103.9" r="2.0" fill="url(#gO)"/>
<circle cx="170.5" cy="111.9" r="2.0" fill="url(#gO)"/>
<circle cx="84.7" cy="143.9" r="2.0" fill="url(#gO)"/>
<circle cx="123.7" cy="150.9" r="2.0" fill="url(#gO)"/>
<circle cx="170.1" cy="144.8" r="2.0" fill="url(#gO)"/>
<circle cx="105.2" cy="66.7" r="4.65" fill="url(#gMn)"/>
<circle cx="105.0" cy="107.0" r="4.65" fill="url(#gMn)"/>
<circle cx="104.4" cy="147.4" r="4.65" fill="url(#gMn)"/>
<circle cx="148.3" cy="66.9" r="4.65" fill="url(#gMn)"/>
<circle cx="147.3" cy="107.4" r="4.65" fill="url(#gMn)"/>
<circle cx="147.1" cy="148.0" r="4.65" fill="url(#gMn)"/>
<circle cx="111.4" cy="64.5" r="2.2" fill="url(#gO)"/>
<circle cx="145.2" cy="71.8" r="2.2" fill="url(#gO)"/>
<circle cx="110.7" cy="111.9" r="2.2" fill="url(#gO)"/>
<circle cx="144.2" cy="105.0" r="2.2" fill="url(#gO)"/>
<circle cx="110.3" cy="145.4" r="2.2" fill="url(#gO)"/>
<circle cx="143.7" cy="152.8" r="2.2" fill="url(#gO)"/>
<path d="M106.3,122.4 A5.6,5.6 0 0 0 106.3,133.6" fill="none" stroke="#000" stroke-width="0.9"/>
<path d="M118.0,150.8 A6.0,6.0 0 0 1 130.0,150.8" fill="none" stroke="#000" stroke-width="0.9"/>
<text x="88.2" y="130.4" font-size="14.3" font-family="Liberation Sans, sans-serif" font-weight="bold" font-style="italic">γ</text>
<text x="121.6" y="136.6" font-size="15.2" font-family="Liberation Sans, sans-serif" font-weight="bold" font-style="italic">β</text>
<line x1="105.0" y1="36.8" x2="96.23" y2="55.27" stroke="#000" stroke-width="1.7"/><path d="M92.8,62.5L92.81,51.99L96.23,55.27L100.94,55.85Z" fill="#000"/>
<line x1="109.5" y1="36.8" x2="115.19" y2="58.76" stroke="#000" stroke-width="1.7"/><path d="M117.2,66.5L110.46,58.43L115.19,58.76L119.17,56.17Z" fill="#000"/>
<line x1="161.3" y1="37.0" x2="142.62" y2="59.45" stroke="#000" stroke-width="1.7"/><path d="M137.5,65.6L140.12,55.42L142.62,59.45L147.04,61.18Z" fill="#000"/>
<line x1="166.9" y1="36.0" x2="165.45" y2="53.63" stroke="#000" stroke-width="1.7"/><path d="M164.8,61.6L161.09,51.76L165.45,53.63L170.06,52.50Z" fill="#000"/>
<line x1="173.6" y1="81.7" x2="163.23" y2="78.95" stroke="#000" stroke-width="1.7"/><path d="M155.5,76.9L165.84,74.99L163.23,78.95L163.53,83.68Z" fill="#000"/>
<line x1="174.2" y1="88.6" x2="163.84" y2="91.82" stroke="#000" stroke-width="1.7"/><path d="M156.2,94.2L163.93,87.08L163.84,91.82L166.61,95.67Z" fill="#000"/>
<text x="99.4" y="30.5" font-size="16.3" font-family="Liberation Sans, sans-serif" font-weight="bold" font-style="italic">d</text><text x="109.3" y="33.8" font-size="11" font-family="Liberation Sans, sans-serif" font-weight="bold" font-style="italic">s</text>
<text x="158.1" y="30.8" font-size="16.3" font-family="Liberation Sans, sans-serif" font-weight="bold" font-style="italic">d</text><text x="167.4" y="35" font-size="11" font-family="Liberation Sans, sans-serif" font-weight="bold" font-style="italic">l</text>
<text x="177.7" y="89.8" font-size="16.3" font-family="Liberation Sans, sans-serif" font-weight="bold" font-style="italic">d</text><text x="187.8" y="92.2" font-size="11" font-family="Liberation Sans, sans-serif" font-weight="bold" font-style="italic">m</text>
<line x1="48" y1="172.1" x2="48.00" y2="151.00" stroke="#000" stroke-width="1.5"/><path d="M48,147.3L51.20,152.80L48.00,151.00L44.80,152.80Z" fill="#000"/>
<line x1="48" y1="172.1" x2="60.98" y2="176.35" stroke="#000" stroke-width="1.5"/><path d="M64.5,177.5L58.28,178.83L60.98,176.35L60.27,172.75Z" fill="#000"/>
<line x1="48" y1="172.1" x2="36.77" y2="178.06" stroke="#000" stroke-width="1.5"/><path d="M33.5,179.8L36.86,174.39L36.77,178.06L39.86,180.05Z" fill="#000"/>
<text x="43.5" y="142.3" font-size="12" font-family="Liberation Sans, sans-serif" font-weight="bold">c</text>
<text x="22.0" y="185.8" font-size="12" font-family="Liberation Sans, sans-serif" font-weight="bold">a</text>
<text x="66.4" y="183.6" font-size="12" font-family="Liberation Sans, sans-serif" font-weight="bold">b</text>
<text x="82.8" y="199.8" font-size="16" font-family="Liberation Sans, sans-serif" font-weight="bold" font-style="italic">d</text><text x="92.6" y="203.2" font-size="10.5" font-family="Liberation Sans, sans-serif" font-weight="bold" font-style="italic">s</text>
<path d="M114.9,189.9 L102.9,195.8 L114.9,201.6" fill="none" stroke="#000" stroke-width="1.8" stroke-linejoin="miter"/>
<text x="120.0" y="199.8" font-size="16" font-family="Liberation Sans, sans-serif" font-weight="bold" font-style="italic">d</text><text x="129.6" y="202.6" font-size="10.5" font-family="Liberation Sans, sans-serif" font-weight="bold" font-style="italic">m</text>
<path d="M156.2,189.9 L144.2,195.8 L156.2,201.6" fill="none" stroke="#000" stroke-width="1.8" stroke-linejoin="miter"/>
<text x="161.5" y="199.8" font-size="16" font-family="Liberation Sans, sans-serif" font-weight="bold" font-style="italic">d</text><text x="171.0" y="202.6" font-size="10.5" font-family="Liberation Sans, sans-serif" font-weight="bold" font-style="italic">l</text>
<text x="6.8" y="14.2" font-size="18.6" font-weight="bold" font-family="Liberation Sans, sans-serif" stroke="#000" stroke-width="0.22">a</text>
<text x="229.6" y="14.2" font-size="18.6" font-weight="bold" font-family="Liberation Sans, sans-serif" stroke="#000" stroke-width="0.22">b</text>
<text x="471.6" y="13.6" font-size="18.6" font-weight="bold" font-family="Liberation Sans, sans-serif" stroke="#000" stroke-width="0.22">c</text>
<text x="6.5" y="262.2" font-size="18.6" font-weight="bold" font-family="Liberation Sans, sans-serif" stroke="#000" stroke-width="0.22">d</text>
<text x="228.8" y="262.2" font-size="18.6" font-weight="bold" font-family="Liberation Sans, sans-serif" stroke="#000" stroke-width="0.22">e</text>
<text x="471.3" y="261.9" font-size="18.6" font-weight="bold" font-family="Liberation Sans, sans-serif" stroke="#000" stroke-width="0.22">f</text>
</svg></body></html>
